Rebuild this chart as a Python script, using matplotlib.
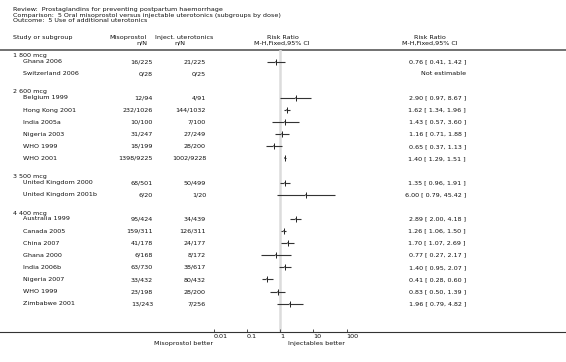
import numpy as np
import matplotlib
matplotlib.use("Agg")
import matplotlib.pyplot as plt

# data
groups = ["1 800 mcg", "2 600 mcg", "3 500 mcg", "4 400 mcg"]
group_sizes = [2, 6, 2, 8]
studies = ["Ghana 2006", "Switzerland 2006",
           "Belgium 1999", "Hong Kong 2001", "India 2005a", "Nigeria 2003", "WHO 1999", "WHO 2001",
           "United Kingdom 2000", "United Kingdom 2001b",
           "Australia 1999", "Canada 2005", "China 2007", "Ghana 2000", "India 2006b",
           "Nigeria 2007", "WHO 1999", "Zimbabwe 2001"]
miso = ["16/225", "0/28",
        "12/94", "232/1026", "10/100", "31/247", "18/199", "1398/9225",
        "68/501", "6/20",
        "95/424", "159/311", "41/178", "6/168", "63/730", "33/432", "23/198", "13/243"]
inj = ["21/225", "0/25",
       "4/91", "144/1032", "7/100", "27/249", "28/200", "1002/9228",
       "50/499", "1/20",
       "34/439", "126/311", "24/177", "8/172", "38/617", "80/432", "28/200", "7/256"]
rr = [0.76, np.nan, 2.90, 1.62, 1.43, 1.16, 0.65, 1.40, 1.35, 6.00,
      2.89, 1.26, 1.70, 0.77, 1.40, 0.41, 0.83, 1.96]
lo = [0.41, np.nan, 0.97, 1.34, 0.57, 0.71, 0.37, 1.29, 0.96, 0.79,
      2.00, 1.06, 1.07, 0.27, 0.95, 0.28, 0.50, 0.79]
hi = [1.42, np.nan, 8.67, 1.96, 3.60, 1.88, 1.13, 1.51, 1.91, 45.42,
      4.18, 1.50, 2.69, 2.17, 2.07, 0.60, 1.39, 4.82]
ticks = [0.01, 0.1, 1, 10, 100]
tick_labels = ["0.01", "0.1", "1", "10", "100"]

W, H = 566, 362
fs = 4.6
col = "#111111"

fig = plt.figure(figsize=(W / 100, H / 100), dpi=100)
canvas = fig.add_axes([0, 0, 1, 1])
canvas.set_xlim(0, W)
canvas.set_ylim(H, 0)
canvas.axis("off")

# row slots (a blank slot between subgroups)
slots = []
s = 0
for n in group_sizes:
    slots.extend(range(s, s + n))
    s += n + 1
slots = np.array(slots, dtype=float)
y0, pitch = 61.7, 12.1

def px(slot):
    return y0 + pitch * slot

# header text
canvas.text(13, 10, "Review:  Prostaglandins for preventing postpartum haemorrhage", fontsize=fs, color=col, va="center")
canvas.text(13, 15.5, "Comparison:  5 Oral misoprostol versus injectable uterotonics (subgroups by dose)", fontsize=fs, color=col, va="center")
canvas.text(13, 21, "Outcome:  5 Use of additional uterotonics", fontsize=fs, color=col, va="center")

canvas.text(13, 37.5, "Study or subgroup", fontsize=fs, color=col, va="center")
canvas.text(147, 37.5, "Misoprostol", fontsize=fs, color=col, va="center", ha="right")
canvas.text(147, 43, "n/N", fontsize=fs, color=col, va="center", ha="right")
canvas.text(184, 37.5, "Inject. uterotonics", fontsize=fs, color=col, va="center", ha="center")
canvas.text(180, 43, "n/N", fontsize=fs, color=col, va="center", ha="center")
canvas.text(283, 37.5, "Risk Ratio", fontsize=fs, color=col, va="center", ha="center")
canvas.text(282, 43, "M-H,Fixed,95% CI", fontsize=fs, color=col, va="center", ha="center")
canvas.text(430, 37.5, "Risk Ratio", fontsize=fs, color=col, va="center", ha="center")
canvas.text(430, 43, "M-H,Fixed,95% CI", fontsize=fs, color=col, va="center", ha="center")

canvas.plot([0, W], [49.5, 49.5], color="#666666", lw=1.3)
canvas.plot([0, W], [332, 332], color="#333333", lw=0.8)

# subgroup labels
first = 0
for g, n in zip(groups, group_sizes):
    canvas.text(13, px(slots[first]) - 6, g, fontsize=fs, color=col, va="center")
    first += n

for i, name in enumerate(studies):
    y = px(slots[i])
    canvas.text(23, y, name, fontsize=fs, color=col, va="center")
    canvas.text(153, y, miso[i], fontsize=fs, color=col, va="center", ha="right")
    canvas.text(206, y, inj[i], fontsize=fs, color=col, va="center", ha="right")
    if np.isnan(rr[i]):
        res = "Not estimable"
    else:
        res = f"{rr[i]:.2f} [ {lo[i]:.2f}, {hi[i]:.2f} ]"
    canvas.text(466, y, res, fontsize=fs, color=col, va="center", ha="right")

canvas.text(213, 343, "Misoprostol better", fontsize=fs, color=col, va="center", ha="right")
canvas.text(288, 343, "Injectables better", fontsize=fs, color=col, va="center", ha="left")

# forest axes, 0.01..100 on a log scale
x_left, x_right = 213.7, 346.7
top, bottom = 50, 332
ax = fig.add_axes([x_left / W, (H - bottom) / H, (x_right - x_left) / W, (bottom - top) / H])
ax.patch.set_alpha(0)
ax.set_xscale("log")
ax.set_xlim(0.01, 100)
ax.set_ylim((bottom - y0) / pitch, (top - y0) / pitch)
for sp in ax.spines.values():
    sp.set_visible(False)
ax.set_yticks([])
ax.set_xticks(ticks)
ax.set_xticklabels(tick_labels, ha="left")
ax.minorticks_off()
ax.tick_params(axis="x", direction="in", length=2, width=0.6, color="#333333",
               labelsize=fs, labelcolor=col, pad=1.5)

ax.axvline(1, color="#dcdcdc", lw=1.8, zorder=0)

rr_a = np.array(rr)
lo_a = np.array(lo)
hi_a = np.array(hi)
ok = ~np.isnan(rr_a)
ax.hlines(slots[ok], lo_a[ok], hi_a[ok], color="#333333", lw=0.8)
ax.plot(rr_a[ok], slots[ok], ls="none", marker="s", ms=1.6, color="#888888", mew=0)
ax.plot(rr_a[ok], slots[ok], ls="none", marker="|", ms=4, color="#222222", mew=0.7)

fig.savefig("out.png", dpi=100)
